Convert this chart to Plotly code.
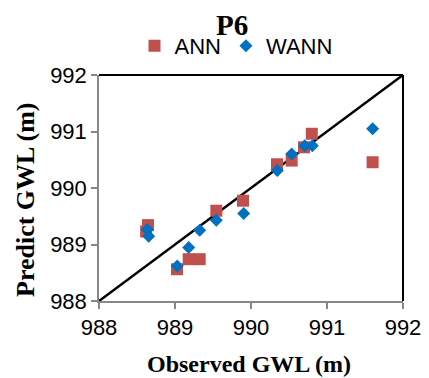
import plotly.graph_objects as go

# Data
ann_obs = [988.645, 988.62, 989.026, 989.18, 989.325, 989.544, 989.895, 990.342, 990.535, 990.697, 990.80, 991.60]
ann_pred = [989.343, 989.23, 988.562, 988.74, 988.74, 989.598, 989.775, 990.42, 990.485, 990.72, 990.96, 990.456]
wann_obs = [988.636, 988.654, 989.03, 989.18, 989.325, 989.544, 989.904, 990.346, 990.535, 990.706, 990.807, 991.60]
wann_pred = [989.266, 989.148, 988.62, 988.947, 989.254, 989.43, 989.55, 990.308, 990.60, 990.746, 990.746, 991.047]
ref_line = [988, 992]
tick_vals = [988, 989, 990, 991, 992]
tick_text = ["988", "989", "990", "991", "992"]

SANS = "Liberation Sans, Arial, sans-serif"
SERIF = "Liberation Serif, Times New Roman, serif"
GRAY = "#878787"

fig = go.Figure()
fig.add_trace(go.Scatter(x=ref_line, y=ref_line, mode="lines",
                         line=dict(color="black", width=2.5), showlegend=False, hoverinfo="skip"))
fig.add_trace(go.Scatter(x=ann_obs, y=ann_pred, mode="markers", name="ANN",
                         marker=dict(symbol="square", size=12, color="#C0504D")))
fig.add_trace(go.Scatter(x=wann_obs, y=wann_pred, mode="markers", name="WANN",
                         marker=dict(symbol="diamond", size=10, color="#0070C0")))

axis_common = dict(range=[988, 992], tickvals=tick_vals, ticktext=tick_text,
                   ticks="outside", ticklen=6, tickcolor=GRAY, tickwidth=1.5,
                   showline=True, linecolor=GRAY, linewidth=1.5,
                   showgrid=False, zeroline=False, automargin=False,
                   tickfont=dict(family=SANS, size=22, color="black"))
fig.update_xaxes(**axis_common)
fig.update_yaxes(**axis_common)

# black top and right border of the plot area
fig.add_shape(type="line", xref="paper", yref="paper", x0=0, x1=1, y0=1, y1=1,
              line=dict(color="black", width=2))
fig.add_shape(type="line", xref="paper", yref="paper", x0=1, x1=1, y0=0, y1=1,
              line=dict(color="black", width=2))

fig.add_annotation(text="<b>P6</b>", xref="paper", yref="paper", x=(232 - 99) / 304, y=1 + 67 / 226,
                   showarrow=False, font=dict(family=SERIF, size=29, color="black"), xanchor="center", yanchor="top",
                   borderpad=0)
fig.add_annotation(text="<b>Observed GWL (m)</b>", xref="paper", yref="paper", x=(249 - 99) / 304, y=-(364 - 301) / 226,
                   showarrow=False, font=dict(family=SERIF, size=24, color="black"), xanchor="center", yanchor="middle")
fig.add_annotation(text="<b>Predict GWL (m)</b>", xref="paper", yref="paper", x=-(99 - 25) / 304, y=(301 - 200) / 226,
                   showarrow=False, textangle=-90, font=dict(family=SERIF, size=26, color="black"), xanchor="center", yanchor="middle")

# page body has an 8px margin, so the figure is drawn 8px smaller and offset
fig.update_layout(
    width=421, height=370,
    margin=dict(l=91, r=26, t=67, b=77, autoexpand=False),
    plot_bgcolor="white", paper_bgcolor="white",
    legend=dict(orientation="h", x=(236 - 99) / 304, xanchor="center", y=1 + (75 - 46) / 226, yanchor="middle",
                font=dict(family=SANS, size=22, color="black"), itemwidth=30, tracegroupgap=0,
                bgcolor="rgba(0,0,0,0)"),
)

fig.write_html("out.html")
